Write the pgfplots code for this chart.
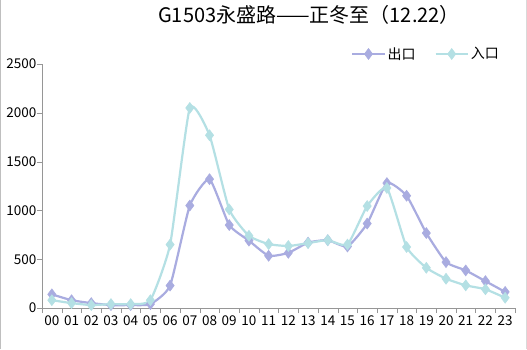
\documentclass[border=0pt]{standalone}
\usepackage{pgfplots}
\pgfplotsset{compat=1.18}
\usepackage{fontspec}
\setmainfont{Noto Sans CJK SC}
\definecolor{outc}{RGB}{169,172,224}
\definecolor{inc}{RGB}{180,224,228}
\definecolor{axg}{RGB}{150,150,150}
\begin{document}
\begin{tikzpicture}[x=1pt,y=1pt]
\useasboundingbox (0,0) rectangle (527,349);
\fill[white] (0,0) rectangle (527,349);
\draw[gray!50] (0.5,0) -- (0.5,349);
\draw[gray!30] (526.5,0) -- (526.5,349);
\node[font=\fontsize{20}{22}\selectfont] at (309,334) {G1503永盛路——正冬至（12.22）};
\begin{axis}[
  at={(51.85pt,41pt)}, anchor=origin,
  scale only axis, width=473pt, height=244pt,
  xmin=-0.5, xmax=23.5, ymin=0, ymax=2500,
  axis x line=bottom, axis y line=left,
  axis line style={axg, -},
  xtick={0,...,23},
  xticklabels={00,01,02,03,04,05,06,07,08,09,10,11,12,13,14,15,16,17,18,19,20,21,22,23},
  major x tick style={draw=none},
  minor xtick={-0.5,0.5,...,23.5},
  minor tick length=5pt,
  minor x tick style={axg},
  ytick={0,500,...,2500},
  major tick length=5pt,
  y tick style={axg},
  tick align=outside,
  ticklabel style={font=\fontsize{13.5}{15}\selectfont},
  yticklabel style={/pgf/number format/1000 sep={}, xshift=3pt},
  xticklabel style={yshift=1pt},
  /pgf/number format/assume math mode=true,
]
\end{axis}
\begin{axis}[
  at={(51.85pt,41pt)}, anchor=origin,
  scale only axis, width=473pt, height=244pt,
  xmin=-0.5, xmax=23.5, ymin=0, ymax=2500,
  hide axis, clip=false,
  legend style={draw=none, fill=none, at={(1,1.041)}, anchor=east, xshift=-11pt, font=\fontsize{14}{15}\selectfont,
    /tikz/every even column/.append style={column sep=17pt}},
  legend columns=2,
  legend image code/.code={\draw[#1, line width=2.2pt, mark repeat=2, mark phase=2] plot coordinates {(0pt,0pt) (16pt,0pt) (32pt,0pt)};},
]
\addplot[outc, line width=2.2pt, smooth, tension=0.3, mark=diamond*, mark size=5.5pt, mark options={solid, fill=outc, line width=0.5pt}] coordinates {
(0,140) (1,80) (2,50) (3,30) (4,30) (5,40) (6,230) (7,1050) (8,1320) (9,850) (10,690) (11,535) (12,565) (13,670) (14,695) (15,630) (16,865) (17,1280) (18,1150) (19,768) (20,470) (21,385) (22,275) (23,165)};
\addlegendentry{出口}
\addplot[inc, line width=2.2pt, smooth, tension=0.3, mark=diamond*, mark size=5.5pt, mark options={solid, fill=inc, line width=0.5pt}] coordinates {
(0,80) (1,50) (2,30) (3,40) (4,40) (5,80) (6,650) (7,2050) (8,1770) (9,1010) (10,740) (11,655) (12,635) (13,665) (14,695) (15,650) (16,1045) (17,1230) (18,625) (19,412) (20,300) (21,232) (22,192) (23,105)};
\addlegendentry{入口}
\end{axis}
\end{tikzpicture}
\end{document}
